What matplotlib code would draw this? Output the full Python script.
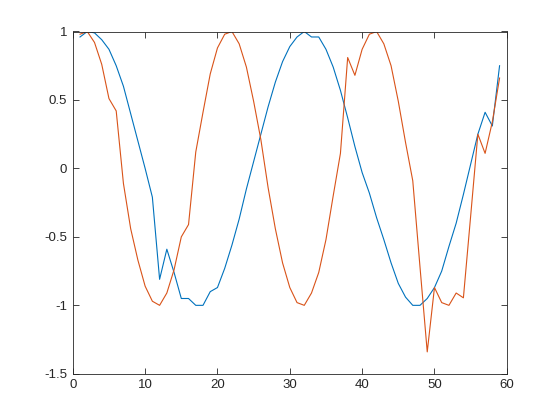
import numpy as np
import matplotlib
matplotlib.use('Agg')
import matplotlib.pyplot as plt

# values, x = 1..59
x = np.arange(1, 60)
blue = [0.96, 1.0, 0.99, 0.94, 0.87, 0.75, 0.60, 0.40, 0.20, 0.00,
        -0.21, -0.81, -0.59, -0.76, -0.95, -0.95, -1.0, -1.0, -0.90, -0.87,
        -0.73, -0.56, -0.37, -0.15, 0.05, 0.25, 0.45, 0.63, 0.78, 0.89,
        0.96, 1.0, 0.96, 0.96, 0.87, 0.74, 0.57, 0.37, 0.16, -0.03,
        -0.18, -0.36, -0.52, -0.69, -0.84, -0.94, -1.0, -1.0, -0.95, -0.87,
        -0.75, -0.57, -0.40, -0.19, 0.03, 0.25, 0.41, 0.31, 0.75]
orange = [0.98, 1.0, 0.92, 0.76, 0.51, 0.42, -0.11, -0.44, -0.67, -0.86,
          -0.97, -1.0, -0.91, -0.74, -0.50, -0.41, 0.12, 0.41, 0.69, 0.88,
          0.98, 1.0, 0.91, 0.74, 0.49, 0.21, -0.14, -0.44, -0.69, -0.87,
          -0.98, -1.0, -0.91, -0.76, -0.52, -0.20, 0.11, 0.81, 0.68, 0.87,
          0.98, 1.0, 0.91, 0.75, 0.49, 0.19, -0.09, -0.72, -1.34, -0.87,
          -0.98, -1.0, -0.91, -0.945, -0.35, 0.25, 0.11, 0.34, 0.66]

xticks = [0, 10, 20, 30, 40, 50, 60]
yticks = [-1.5, -1, -0.5, 0, 0.5, 1]
yticklabels = ['-1.5', '-1', '-0.5', '0', '0.5', '1']

plt.rcParams['font.family'] = ['Liberation Sans', 'DejaVu Sans']
plt.rcParams['axes.unicode_minus'] = False

fig = plt.figure(figsize=(5.6, 4.2), dpi=100)
ax = fig.add_axes([0.13, 0.11, 0.775, 0.815])

ax.plot(x, blue, color='#0072BD', lw=0.8)
ax.plot(x, orange, color='#D95319', lw=0.8)

ax.set_xlim(0, 60)
ax.set_ylim(-1.5, 1)
ax.set_xticks(xticks)
ax.set_xticklabels([str(t) for t in xticks])
ax.set_yticks(yticks)
ax.set_yticklabels(yticklabels)

axcol = '#262626'
for s in ax.spines.values():
    s.set_color(axcol)
    s.set_linewidth(0.6)
ax.tick_params(direction='in', length=4, width=0.6, colors=axcol,
               labelsize=9.5, top=True, right=True, pad=4)

fig.savefig('out.png', dpi=100)
